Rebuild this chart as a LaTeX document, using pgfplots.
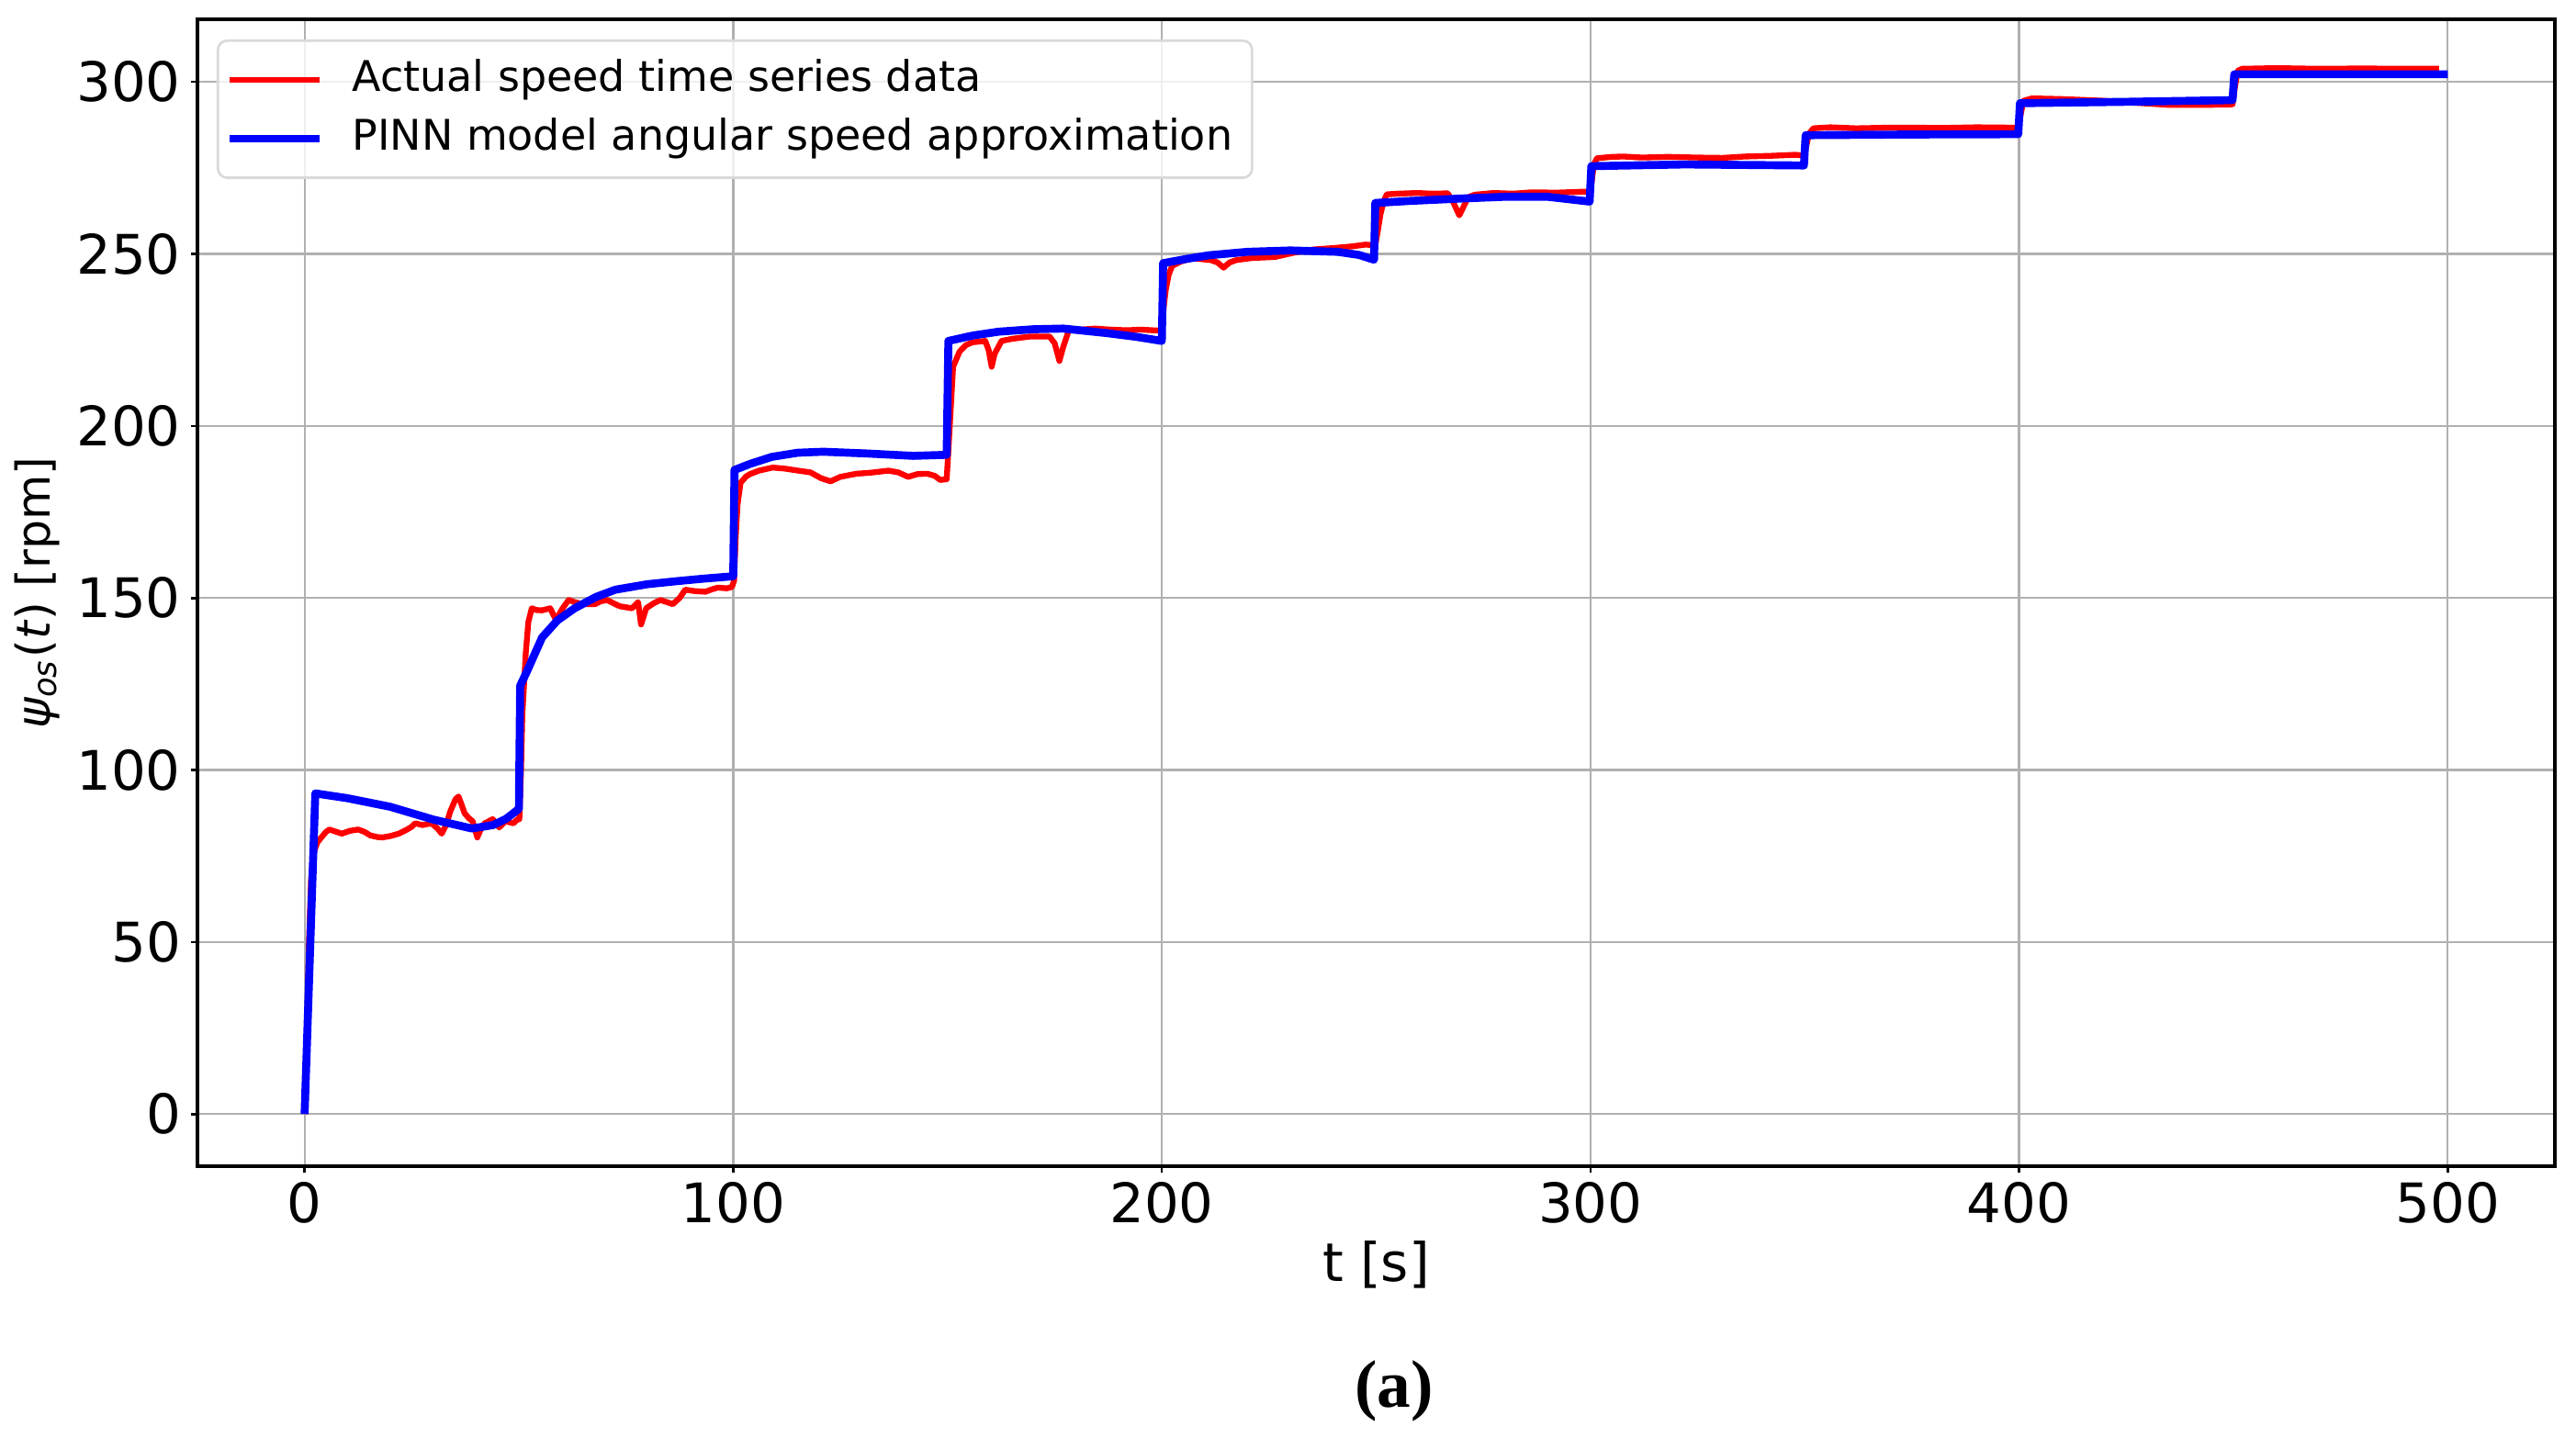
\documentclass[border=0pt]{standalone}
\usepackage{pgfplots}
\pgfplotsset{compat=1.18}
\usepackage{fontspec}
\setmainfont{DejaVu Sans}
\newfontfamily\capfont{Liberation Serif}
\definecolor{gridgray}{RGB}{176,176,176}

\pgfplotstableread{
t v
0 0
0.5 20
1.0 49
1.5 68
2.0 75.6
3.0 79
3.9 80.4
5.0 82
5.8 82.7
7 82.2
8.7 81.5
10.5 82.3
12.5 82.7
14 82
15.3 81
17 80.5
18.2 80.4
20 80.8
22 81.5
23.9 82.7
25 83.5
25.8 84.5
27.5 84
29.6 84.5
31 83
32 81.5
33 84
34 88
35.2 91.5
35.9 92.3
36.6 90
37.3 87.5
38.3 86
39.2 85.1
40.3 80.4
41 82.5
42 84.5
43.9 85.7
45.4 83.3
46.8 85.1
48.7 84.5
49.5 85.5
50.1 85.7
50.5 100
50.8 116
51.6 134
52.2 143
53 147
54 146.5
55.4 146.4
57.3 147
58.1 145
58.7 143.5
59.5 145.5
60.2 147
61.6 149.4
63 148.8
64.9 148.2
67.8 148.2
69 149
70.6 149.4
72 148.5
73.5 147.6
76.4 147
77.8 148.8
78.5 142.3
79.7 147
81.5 148.5
83 149.4
85.9 148.2
87.5 150
88.8 152.4
91 152
93.5 151.8
95 152.5
96.4 153
98.5 152.8
99.7 153.2
100.2 155
100.6 168
101 177
101.7 183.5
103 185.3
103.9 186
106 187
109.2 187.9
112 187.6
115.2 187
118 186.5
120.5 184.8
122.7 183.9
125 185.2
128.7 186.1
132 186.4
136.2 187
138.5 186.5
140.8 185.2
143 186
145.3 186.1
147 185.5
148.3 184.3
149.8 184.5
150.3 195
150.7 204
151.3 217.2
152.8 221.6
154.3 223.5
155.8 224.3
158.8 224.7
159.6 222
160.3 217.2
161 221
162.6 224.7
165 225.3
169.3 226
173.8 226
175 224
176.1 218.9
177 223
178.3 227.8
181 228
184.4 228.3
188 228
191.9 227.8
195 228
197.9 227.8
199.8 227.8
200.2 232
200.9 239.4
201.6 244
202.4 246.5
204.5 247.8
206.9 248.7
209 248.5
211.4 248.2
213 247.5
214.4 246
215.8 247.5
217.4 248.2
221 248.8
226.4 249.1
231 250.4
235.5 251.3
240 251.7
244.5 252.2
247.5 252.7
249.8 252.5
250.3 256
251 261.5
251.8 265.5
252.5 267.3
255 267.5
259.6 267.7
263 267.5
266.7 267.6
268 265
269.4 261.2
270.5 264
271.5 266.5
273 267.2
277.4 267.7
282 267.5
286.3 267.9
292 267.8
298.8 268.1
299.8 267.9
300.2 270
300.8 276
301.5 277.8
305 278.2
307.7 278.3
312 278
318 278.2
325 278
330.8 277.9
336 278.3
342 278.5
347.7 278.8
349.8 278.6
350.3 281
351 285
352 286.5
356 286.8
362 286.5
370 286.7
375 286.7
382 286.6
390 286.8
398.4 286.7
399.8 286.7
400.3 290
401 294.5
403 295.2
410 295
420 294.5
428.6 293.8
435 293.3
442 293.3
449.1 293.4
449.8 293.5
450.3 298
451 303.2
452 303.8
460 304
470 303.8
480 303.9
490 303.8
498 303.8
}\actual

\pgfplotstableread{
t v
0 0
2.5 93.2
10 91.8
20 89.3
30 85.6
39 83.0
44 84.0
47 85.8
50 88.7
50.3 124.5
52 129
55.4 138.5
59 143.5
63 147
68 150.3
72.5 152.4
80 154
87 154.9
93 155.6
100 156.3
100.3 187.2
104 189
109 191
115 192.2
121 192.5
131 192
142 191.3
149.8 191.6
150.2 224.7
156 226.3
162 227.4
170 228.1
177 228.3
187 227
194 225.9
200 224.7
200.3 247.3
206 248.6
211 249.6
220 250.6
230 251.0
241 250.6
246 249.7
249.5 248.3
249.8 264.8
258 265.4
270 266.1
280 266.6
290 266.6
299.8 265.2
300.2 275.5
322 276.0
349.8 275.7
350.2 284.5
375 284.7
399.8 284.8
400.2 293.8
425 294.2
449.8 294.7
450.2 302.2
500 302.2
}\pinn

\begin{document}
\begin{tikzpicture}
\useasboundingbox (0,0) rectangle (420.75pt,234.9pt);
\begin{axis}[
  at={(32.25pt,44.4pt)}, anchor=south west,
  scale only axis, width=385.05pt, height=187.35pt,
  xmin=-25, xmax=525, ymin=-15.15, ymax=318.2,
  xtick={0,100,...,500}, ytick={0,50,...,300},
  grid=major,
  major grid style={draw=gridgray, line width=0.35pt},
  axis line style={line width=0.5pt},
  tick align=outside, major tick length=1.1pt,
  tick style={line width=0.4pt, black},
  xtick pos=bottom, ytick pos=left,
  /pgf/number format/assume math mode=true,
  ticklabel style={font=\fontsize{8.9}{10.7}\selectfont},
  xticklabel style={yshift=2.0pt},
  yticklabel style={xshift=1.9pt},
  xlabel={t [s]},
  ylabel={{\itshape ψ}\textsubscript{\itshape os}(\textit{t}) [rpm]},
  every axis x label/.style={at={(axis description cs:0.5,-0.0857)}, anchor=center, font=\fontsize{8.7}{10.4}\selectfont},
  every axis y label/.style={at={(axis description cs:-0.0678,0.5)}, anchor=center, rotate=90, font=\fontsize{7.6}{9}\selectfont},
  legend cell align=left,
  legend style={at={(0,1)}, anchor=north west, xshift=3.15pt, yshift=-3.3pt,
    draw=black!15, rounded corners=1.5pt, fill=white, fill opacity=0.8, text opacity=1,
    font=\fontsize{6.9}{8.3}\selectfont, inner xsep=1.2pt, inner ysep=1.0pt,
    row sep=-1.1pt},
  legend image code/.code={\draw[#1] (0pt,0pt) -- (14.7pt,0pt); \path (17.4pt,0pt);},
]
\addplot[red, line width=0.95pt, line join=round] table[x=t,y=v] {\actual};
\addlegendentry{Actual speed time series data}
\addplot[blue, line width=1.3pt, line join=round] table[x=t,y=v] {\pinn};
\addlegendentry{PINN model angular speed approximation}
\end{axis}
\node[font=\capfont\bfseries\fontsize{11}{13}\selectfont] at (227.7pt,7.65pt) {(a)};
\end{tikzpicture}
\end{document}
